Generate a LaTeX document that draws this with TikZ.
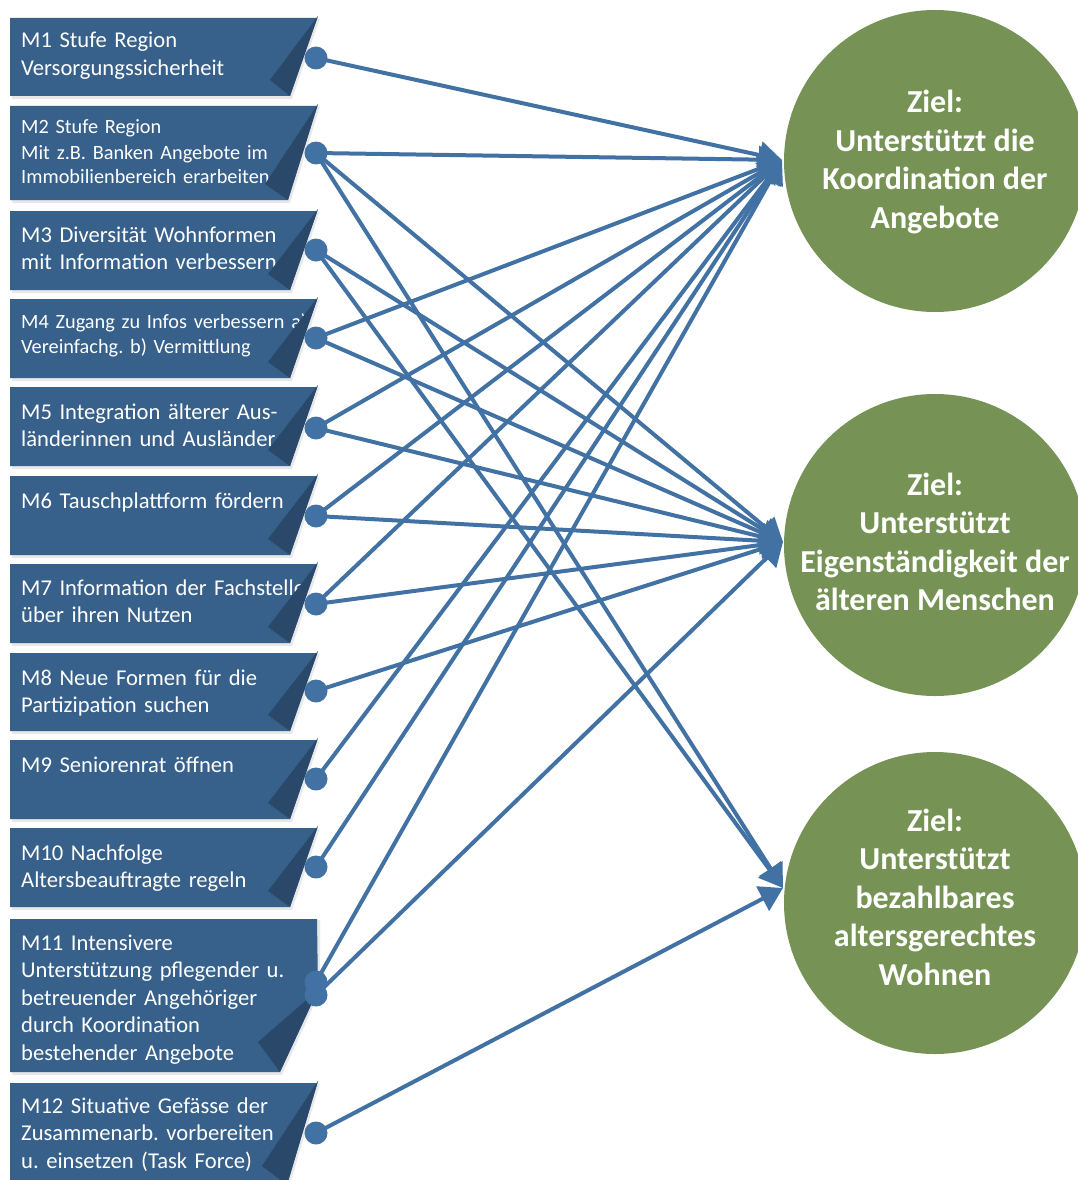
\documentclass[tikz,border=0pt]{standalone}
\usepackage{fontspec}
\setmainfont{Carlito}
\usetikzlibrary{arrows.meta}
\definecolor{boxblue}{RGB}{55,96,138}
\definecolor{folddark}{RGB}{41,72,106}
\definecolor{linkblue}{RGB}{66,113,163}
\definecolor{goalgreen}{RGB}{118,147,85}
\tikzset{
  boxshape/.style={fill=boxblue},
  boxshadow/.style={fill=black!9},
  foldshape/.style={fill=folddark},
  mtext/.style={anchor=base west, inner sep=0pt, text=white, align=left, text width=300pt, font=\frenchspacing\fontsize{22.6}{27.5}\selectfont},
  mtextsmall/.style={mtext, font=\frenchspacing\fontsize{20.3}{25}\selectfont},
  dotnode/.style={circle, fill=linkblue, minimum size=23pt, inner sep=0pt},
  goal/.style={circle, fill=goalgreen, minimum size=302pt, inner sep=0pt},
  goaltext/.style={text=white, align=center, font=\bfseries\fontsize{32}{38.5}\selectfont, inner sep=0pt},
  link/.style={draw=linkblue, line width=4pt, -{Triangle[length=23pt,width=27pt]}},
}
% #1 top, #2 bottom, #3 fold start y, #4 bottom-right x
\newcommand\mkbox[4]{%
  \fill[boxshadow] (12,{#1+2}) -- (320,{#1+1}) -- (320,{#3+2}) -- ({#4+2},{#2+3}) -- (12,{#2+3}) -- cycle;
  \fill[boxshape] (10,#1) -- (317,#1) -- (318,#3) -- (#4,#2) -- (10,#2) -- cycle;
}
% #1 fold start y, #2 bottom-right x, #3 bottom, #4 inner x, #5 inner y
\newcommand\mkfold[5]{%
  \fill[foldshape] (318,#1) -- (#4,#5) -- (#2,#3) -- cycle;
}
\begin{document}
\begin{tikzpicture}[x=1pt,y=-1pt]
\useasboundingbox (0,0) rectangle (1078,1180);
\clip (0,0) rectangle (1078,1180);

% goal circles
\node[goal] (c1) at (935,161) {};
\node[goal] (c2) at (935,545) {};
\node[goal] (c3) at (935,903) {};
\node[goaltext] (c1t) at (935,162) {Ziel:\\Unterstützt die\\Koordination der\\Angebote};
\node[goaltext] (c2t) at (935,542) {Ziel:\\Unterstützt\\Eigenständigkeit der\\älteren Menschen};
\node[goaltext] (c3t) at (935,897) {Ziel:\\Unterstützt\\bezahlbares\\altersgerechtes\\Wohnen};
\coordinate (c1in) at (782,160);
\coordinate (c2in) at (783,542);
\coordinate (c3in) at (783,888);

% boxes
\mkbox{18}{96}{16}{290}
\node[mtext] (t1) at (21,48) {M1 Stufe Region\\Versorgungssicherheit};
\mkfold{16}{290}{96}{270}{80}

\mkbox{106}{200}{104}{288}
\node[mtextsmall] (t2) at (21,134) {M2 Stufe Region\\Mit z.B. Banken Angebote im\\Immobilienbereich erarbeiten};
\mkfold{104}{288}{200}{265}{184}

\mkbox{211}{290}{209}{290}
\node[mtext] (t3) at (21,242) {M3 Diversität Wohnformen\\mit Information verbessern};
\mkfold{209}{290}{290}{268}{274}

\mkbox{299}{378}{297}{290}
\node[mtextsmall] (t4) at (21,328) {M4 Zugang zu Infos verbessern a)\\Vereinfachg. b) Vermittlung};
\mkfold{297}{290}{378}{268}{362}

\mkbox{387}{466}{385}{290}
\node[mtext] (t5) at (21,419) {M5 Integration älterer Aus-\\länderinnen und Ausländer};
\mkfold{385}{290}{466}{268}{450}

\mkbox{476}{555}{474}{290}
\node[mtext] (t6) at (21,508) {M6 Tauschplattform fördern};
\mkfold{474}{290}{555}{268}{539}

\mkbox{564}{643}{562}{290}
\node[mtext] (t7) at (21,595) {M7 Information der Fachstelle\\über ihren Nutzen};
\mkfold{562}{290}{643}{268}{627}

\mkbox{653}{731}{651}{290}
\node[mtext] (t8) at (21,685) {M8 Neue Formen für die\\Partizipation suchen};
\mkfold{651}{290}{731}{268}{715}

\mkbox{740}{819}{738}{290}
\node[mtext] (t9) at (21,772) {M9 Seniorenrat öffnen};
\mkfold{738}{290}{819}{268}{803}

\mkbox{828}{907}{826}{290}
\node[mtext] (t10) at (21,860) {M10 Nachfolge\\Altersbeauftragte regeln};
\mkfold{826}{290}{907}{268}{891}

\mkbox{919}{1072}{990}{280}
\node[mtext] (t11) at (21,950) {M11 Intensivere\\Unterstützung pflegender u.\\betreuender Angehöriger\\durch Koordination\\bestehender Angebote};
\mkfold{990}{280}{1072}{258}{1042}

\mkbox{1083}{1185}{1081}{287}
\node[mtext] (t12) at (21,1113) {M12 Situative Gefässe der\\Zusammenarb. vorbereiten\\u. einsetzen (Task Force)};
\mkfold{1081}{287}{1185}{262}{1166}

% dot positions
\coordinate (d1) at (316,58);
\coordinate (d2) at (316,153);
\coordinate (d3) at (316,250);
\coordinate (d4) at (316,338);
\coordinate (d5) at (316,428);
\coordinate (d6) at (316,516);
\coordinate (d7) at (316,604);
\coordinate (d8) at (316,691);
\coordinate (d9) at (316,779);
\coordinate (d10) at (316,867);
\coordinate (d11a) at (316,982);
\coordinate (d11b) at (316,995);
\coordinate (d12) at (316,1133);

% links
\draw[link] (d1) -- (c1in);
\draw[link] (d2) -- (c1in);
\draw[link] (d2) -- (c2in);
\draw[link] (d2) -- (c3in);
\draw[link] (d3) -- (c2in);
\draw[link] (d3) -- (c3in);
\draw[link] (d4) -- (c1in);
\draw[link] (d4) -- (c2in);
\draw[link] (d5) -- (c1in);
\draw[link] (d5) -- (c2in);
\draw[link] (d6) -- (c1in);
\draw[link] (d6) -- (c2in);
\draw[link] (d7) -- (c1in);
\draw[link] (d7) -- (c2in);
\draw[link] (d8) -- (c2in);
\draw[link] (d9) -- (c1in);
\draw[link] (d10) -- (c1in);
\draw[link] (d11a) -- (c1in);
\draw[link] (d11b) -- (c2in);
\draw[link] (d12) -- (c3in);

% dots
\foreach \d in {d1,d2,d3,d4,d5,d6,d7,d8,d9,d10,d11a,d11b,d12}
  \node[dotnode] (\d dot) at (\d) {};
\end{tikzpicture}
\end{document}
